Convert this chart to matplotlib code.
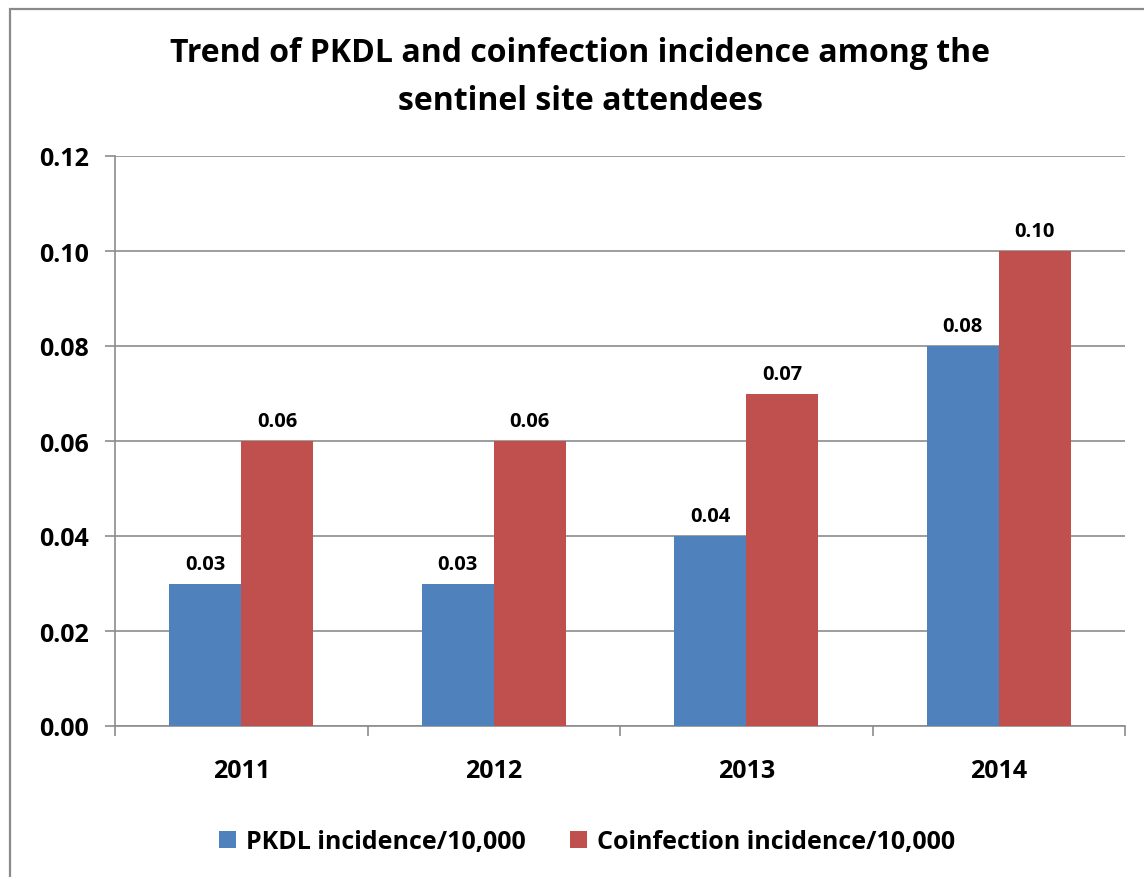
import matplotlib.pyplot as plt
from matplotlib.patches import Rectangle
import numpy as np

years = ["2011", "2012", "2013", "2014"]
pkdl = [0.03, 0.03, 0.04, 0.08]
coinf = [0.06, 0.06, 0.07, 0.10]
series_names = ["PKDL incidence/10,000", "Coinfection incidence/10,000"]
title = "Trend of PKDL and coinfection incidence among the\nsentinel site attendees"

plt.rcParams['font.family'] = ['Open Sans', 'DejaVu Sans']
plt.rcParams['font.weight'] = 'bold'

BLUE = "#4F81BD"
RED = "#C0504D"
GRID = "#8c8c8c"

fig = plt.figure(figsize=(11.44, 8.78), dpi=100)
ax = fig.add_axes([115/1144, 1-727/878, (1125-115)/1144, (727-157)/878])

# outer frame like the Excel chart area
fig.patches.append(Rectangle((10/1144, -0.1), 1.2, 1-10/878+0.1, transform=fig.transFigure,
                             fill=False, edgecolor="#8a8a8a", lw=1.6))

x = np.arange(len(years))
w = 0.285
b1 = ax.bar(x - w/2, pkdl, w, color=BLUE, label=series_names[0], zorder=3)
b2 = ax.bar(x + w/2, coinf, w, color=RED, label=series_names[1], zorder=3)

for bars, vals in ((b1, pkdl), (b2, coinf)):
    for r, v in zip(bars, vals):
        ax.annotate(f"{v:.2f}", (r.get_x() + r.get_width()/2, v), xytext=(0, 7),
                    textcoords="offset points", ha="center", va="bottom",
                    fontsize=14.5, fontweight="bold")

ax.set_xlim(-0.5, len(years) - 0.5)
ax.set_ylim(0, 0.12)
yt = np.arange(0, 0.121, 0.02)
ax.set_yticks(yt)
ax.set_yticklabels([f"{t:.2f}" for t in yt], fontweight="bold")
ax.yaxis.grid(True, color=GRID, lw=1.2, zorder=0)
ax.set_axisbelow(True)

ax.set_xticks(x)
ax.set_xticklabels(years, fontweight="bold")
ax.set_xticks(np.arange(-0.5, len(years)), minor=True)
ax.tick_params(axis="x", which="major", length=0, pad=23, labelsize=18)
ax.tick_params(axis="x", which="minor", length=7, width=1.2, color=GRID)
ax.tick_params(axis="y", length=7, width=1.2, color=GRID, pad=12, labelsize=18)

for s in ("top", "right"):
    ax.spines[s].set_visible(False)
for s in ("left", "bottom"):
    ax.spines[s].set_color(GRID)
    ax.spines[s].set_linewidth(1.2)

fig.text(580/1144, 1-37/878, title, ha="center", va="top", fontsize=23,
         fontweight="bold", linespacing=1.6)

ax.legend(loc="center", bbox_to_anchor=(587/1144, 1-843/878), bbox_transform=fig.transFigure,
          ncol=2, frameon=False, prop={"size": 18, "weight": "bold"},
          handlelength=0.65, handleheight=0.65, handletextpad=0.4, columnspacing=1.8)

fig.savefig("out.png", dpi=100)
